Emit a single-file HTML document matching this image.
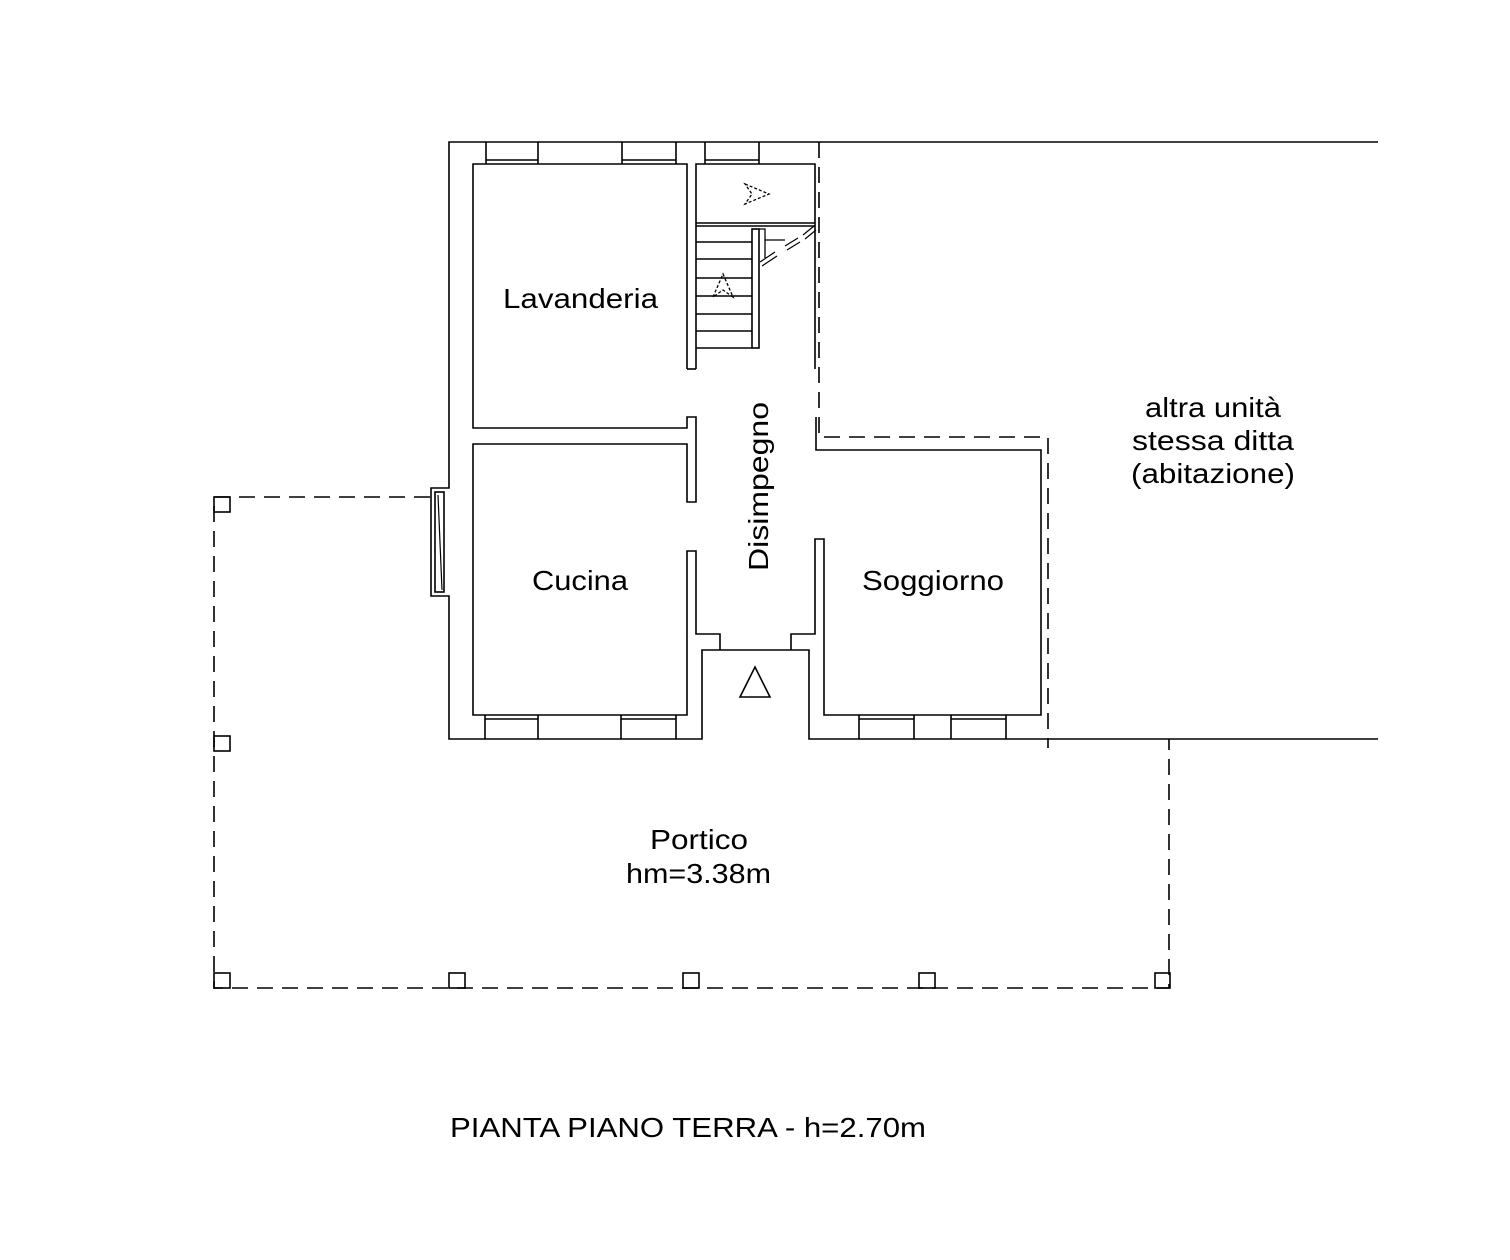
<!DOCTYPE html>
<html><head><meta charset="utf-8"><style>
html,body{margin:0;padding:0;background:#fff;}
svg{display:block;}
text{font-family:"Liberation Sans",sans-serif;fill:#000;}
</style></head><body>
<svg width="1510" height="1260" viewBox="0 0 1510 1260" xmlns="http://www.w3.org/2000/svg">
<g fill="none" stroke="#000" stroke-width="1.6">
<path d="M1378 142 H449 V488 H431 V596 H449 V739 H702 V650 H809 V739 H1378"/>
<rect x="435" y="492" width="9" height="100"/>
<path d="M438 495 L442 590" stroke-width="1.2"/>
<path d="M687 369 V164 H473 V428 H687 V417 H696 V502 H687 V444 H473 V715 H687 V551 H696 V634 H720 V650"/>
<path d="M696 369 H687"/>
<path d="M696 369 V164 H815 V369"/>
<path d="M791 650 V634 H815 V539 H824 V715 H1041 V450 H816 V417"/>
<path d="M696 223 H815 M696 226 H815"/>
<path d="M696 242 H752 M696 259 H752 M696 278 H752 M696 296 H752 M696 314 H752 M696 331 H752 M696 348 H752"/>
<rect x="752" y="229" width="7" height="119"/>
<path d="M759 229 H765 V258 M765 240 H785" stroke-width="1.3"/>
<path d="M760 262 L775 252 M762 266 L777 256 M785 246 L798 238 M787 250 L800 242 M803 235 L814 226 M805 239 L816 230" stroke-width="1.2"/>
<path d="M486 142 V164 M538 142 V164 M486 160 H538"/>
<path d="M622 142 V164 M676 142 V164 M622 160 H676"/>
<path d="M705 142 V164 M759 142 V164 M705 160 H759"/>
<path d="M485 715 V739 M538 715 V739 M485 719 H538"/>
<path d="M621 715 V739 M676 715 V739 M621 719 H676"/>
<path d="M859 715 V739 M914 715 V739 M859 719 H914"/>
<path d="M951 715 V739 M1006 715 V739 M951 719 H1006"/>
<path d="M740 697 L770 697 L755 667 Z"/>
<path d="M745 184 L769 194 L745 204 L752 194 Z" stroke-dasharray="3 2" stroke-width="1.3"/>
<path d="M713 297 L723 274 L733 297 L723 290 Z" stroke-dasharray="3 2" stroke-width="1.3"/>
</g>
<g fill="none" stroke="#000" stroke-width="1.6" stroke-dasharray="16 9">
<path d="M819 142 V437 H1048 V748"/>
<path d="M430 497 H214 V988 H1169 V739"/>
</g>
<g fill="none" stroke="#000" stroke-width="1.6">
<rect x="214" y="497" width="16" height="15"/>
<rect x="214" y="736" width="16" height="15"/>
<rect x="214" y="973" width="16" height="15"/>
<rect x="449" y="973" width="16" height="15"/>
<rect x="683" y="973" width="16" height="15"/>
<rect x="919" y="973" width="16" height="15"/>
<rect x="1155" y="973" width="15" height="15"/>
</g>
<g font-size="28" text-anchor="start">
<text x="503" y="308" textLength="155" lengthAdjust="spacingAndGlyphs">Lavanderia</text>
<text x="532" y="590" textLength="96" lengthAdjust="spacingAndGlyphs">Cucina</text>
<text x="862" y="590" textLength="142" lengthAdjust="spacingAndGlyphs">Soggiorno</text>
<text transform="translate(768,571) rotate(-90)" textLength="169" lengthAdjust="spacingAndGlyphs">Disimpegno</text>
<text x="1145" y="417" textLength="136" lengthAdjust="spacingAndGlyphs">altra unità</text>
<text x="1132" y="450" textLength="162" lengthAdjust="spacingAndGlyphs">stessa ditta</text>
<text x="1131" y="483" textLength="164" lengthAdjust="spacingAndGlyphs">(abitazione)</text>
<text x="650" y="849" textLength="98" lengthAdjust="spacingAndGlyphs">Portico</text>
<text x="626" y="883" textLength="145" lengthAdjust="spacingAndGlyphs">hm=3.38m</text>
<text x="450" y="1137" textLength="476" lengthAdjust="spacingAndGlyphs">PIANTA PIANO TERRA - h=2.70m</text>
</g>
</svg>
</body></html>
